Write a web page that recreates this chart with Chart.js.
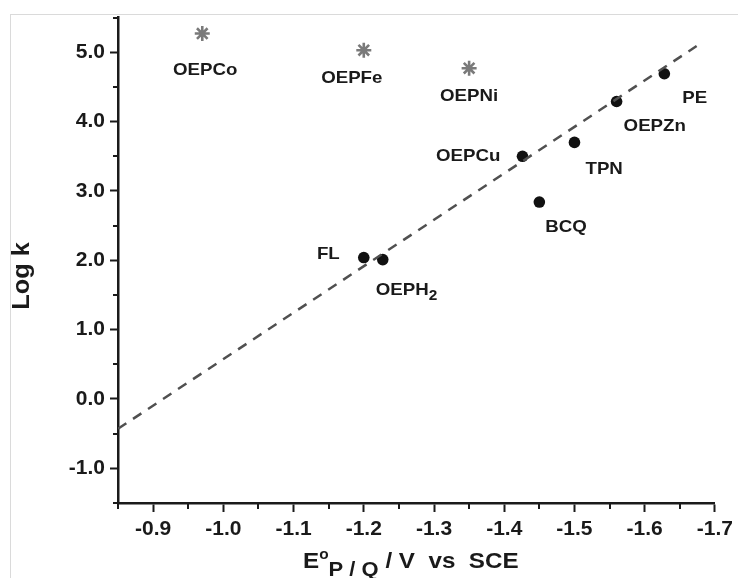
<!DOCTYPE html>
<html>
<head>
<meta charset="utf-8">
<script src="https://cdn.jsdelivr.net/npm/chart.js@4.4.0/dist/chart.umd.min.js"></script>
<style>
  html, body { margin: 0; padding: 0; background: #fff; }
  #wrap { width: 738px; height: 578px; position: relative; }
</style>
</head>
<body>
<div id="wrap"><canvas id="chart" width="738" height="578"></canvas></div>
<script>
// values
const fitNames = ["FL", "OEPH₂", "OEPCu", "BCQ", "TPN", "OEPZn", "PE"];
const fitE = [-1.20, -1.227, -1.426, -1.45, -1.50, -1.56, -1.628];
const fitLogK = [2.04, 2.01, 3.50, 2.84, 3.70, 4.29, 4.69];

const metalNames = ["OEPCo", "OEPFe", "OEPNi"];
const metalE = [-0.97, -1.20, -1.35];
const metalLogK = [5.27, 5.03, 4.77];

// dashed correlation line, end points
const lineE = [-0.85, -1.674];
const lineLogK = [-0.43, 5.09];

const xTicks = [-0.9, -1.0, -1.1, -1.2, -1.3, -1.4, -1.5, -1.6, -1.7];
const xMinor = [-0.85, -0.95, -1.05, -1.15, -1.25, -1.35, -1.45, -1.55, -1.65];
const yTicks = [-1.0, 0.0, 1.0, 2.0, 3.0, 4.0, 5.0];
const yMinor = [-1.5, -0.5, 0.5, 1.5, 2.5, 3.5, 4.5, 5.5];

const FONT = "'Liberation Sans', Arial, sans-serif";
const INK = "#1a1a1a";
const SX = 1.1; // the source text is a little wide

// where each label sits relative to its point: dx, dy, align
const labelPlace = {
  "OEPCo": [3, 37, "center"],
  "OEPFe": [-12, 28, "center"],
  "OEPNi": [0, 28, "center"],
  "FL": [-24, -3, "right"],
  "OEPH₂": [-7, 31, "left"],
  "OEPCu": [-22, 0, "right"],
  "BCQ": [6, 25, "left"],
  "TPN": [11, 27, "left"],
  "OEPZn": [7, 25, "left"],
  "PE": [18, 25, "left"]
};

function wideText(ctx, text, x, y) {
  ctx.save();
  ctx.translate(x, y);
  ctx.scale(SX, 1);
  ctx.fillText(text, 0, 0);
  ctx.restore();
  return ctx.measureText(text).width * SX;
}

const subDigits = "₀₁₂₃₄₅₆₇₈₉";

const decorPlugin = {
  id: "decor",
  beforeDraw(chart) {
    const ctx = chart.ctx;
    ctx.save();
    ctx.fillStyle = "#fff";
    ctx.fillRect(0, 0, chart.width, chart.height);
    ctx.strokeStyle = "#dadada";
    ctx.lineWidth = 1;
    ctx.beginPath();
    ctx.moveTo(10, 14.5); ctx.lineTo(chart.width, 14.5);
    ctx.moveTo(10.5, 14); ctx.lineTo(10.5, chart.height);
    ctx.stroke();
    ctx.restore();
  },
  afterDraw(chart) {
    const ctx = chart.ctx;
    const xs = chart.scales.x, ys = chart.scales.y;
    const area = chart.chartArea;
    ctx.save();

    // minor ticks
    ctx.strokeStyle = INK;
    ctx.lineWidth = 2;
    ctx.beginPath();
    xMinor.forEach(v => {
      const px = Math.round(xs.getPixelForValue(v));
      ctx.moveTo(px, area.bottom); ctx.lineTo(px, area.bottom + 6);
    });
    yMinor.forEach(v => {
      const py = Math.round(ys.getPixelForValue(v));
      ctx.moveTo(area.left, py); ctx.lineTo(area.left - 5, py);
    });
    ctx.stroke();

    // point labels
    ctx.fillStyle = INK;
    ctx.textBaseline = "middle";
    chart.data.datasets.forEach((ds, di) => {
      if (!ds.names) return;
      const meta = chart.getDatasetMeta(di);
      ds.names.forEach((name, i) => {
        const el = meta.data[i];
        const [dx, dy, align] = labelPlace[name] || [0, 25, "center"];
        let main = name, sub = "";
        const m = name.match(/^(.*?)([₀-₉]+)$/);
        if (m) {
          main = m[1];
          sub = [...m[2]].map(c => subDigits.indexOf(c)).join("");
        }
        ctx.font = "bold 17px " + FONT;
        let w = ctx.measureText(main).width * SX;
        ctx.font = "bold 14px " + FONT;
        const ws = sub ? ctx.measureText(sub).width * SX : 0;
        const total = w + ws;
        const x = el.x + dx, y = el.y + dy;
        let left = align === "center" ? x - total / 2 : align === "right" ? x - total : x;
        ctx.font = "bold 17px " + FONT;
        wideText(ctx, main, left, y);
        if (sub) {
          ctx.font = "bold 14px " + FONT;
          wideText(ctx, sub, left + w, y + 6);
        }
      });
    });

    // x title: E°(P / Q) / V vs SCE
    ctx.textBaseline = "alphabetic";
    let tx = 303;
    ctx.font = "bold 22px " + FONT;
    tx += wideText(ctx, "E", tx, 568);
    ctx.font = "bold 14px " + FONT;
    tx += wideText(ctx, "o", tx, 559);
    ctx.font = "bold 20px " + FONT;
    tx += wideText(ctx, "P / Q", tx, 576);
    ctx.font = "bold 22px " + FONT;
    wideText(ctx, " / V  vs  SCE", tx, 568);

    // y title
    ctx.font = "bold 23px " + FONT;
    const yt = "Log k";
    const wy = ctx.measureText(yt).width * SX;
    ctx.translate(29, 276);
    ctx.rotate(-Math.PI / 2);
    wideText(ctx, yt, -wy / 2, 0);

    ctx.restore();
  }
};

const tickFont = { family: FONT, size: 21, weight: "bold" };

new Chart(document.getElementById("chart").getContext("2d"), {
  type: "scatter",
  data: {
    datasets: [
      {
        label: "fit",
        type: "line",
        data: lineE.map((x, i) => ({ x: x, y: lineLogK[i] })),
        borderColor: "#505050",
        borderWidth: 2.5,
        borderDash: [10, 8],
        pointRadius: 0,
        fill: false
      },
      {
        label: "metal complexes",
        names: metalNames,
        data: metalE.map((x, i) => ({ x: x, y: metalLogK[i] })),
        pointStyle: "star",
        pointRadius: 7.5,
        borderColor: "#7a7a7a",
        backgroundColor: "#7a7a7a",
        pointBorderWidth: 2.6
      },
      {
        label: "compounds",
        names: fitNames,
        data: fitE.map((x, i) => ({ x: x, y: fitLogK[i] })),
        pointStyle: "circle",
        pointRadius: 5.8,
        borderColor: "#111",
        backgroundColor: "#111",
        pointBorderWidth: 0
      }
    ]
  },
  options: {
    responsive: false,
    animation: false,
    layout: { padding: { top: 14, right: 20, left: 0, bottom: 0 } },
    plugins: {
      legend: { display: false },
      tooltip: { enabled: false }
    },
    scales: {
      x: {
        type: "linear",
        reverse: true,
        min: -1.7,
        max: -0.85,
        afterBuildTicks: s => { s.ticks = xTicks.map(v => ({ value: v })); },
        afterFit: s => { s.height = 75; },
        ticks: {
          callback: v => Number(v).toFixed(1),
          font: tickFont,
          color: INK,
          padding: 5,
          maxRotation: 0,
          autoSkip: false
        },
        grid: { drawOnChartArea: false, tickLength: 9, tickWidth: 2, tickColor: INK },
        border: { color: INK, width: 2.5 }
      },
      y: {
        type: "linear",
        min: -1.5,
        max: 5.5,
        afterBuildTicks: s => { s.ticks = yTicks.map(v => ({ value: v })); },
        afterFit: s => { s.width = 118; },
        ticks: {
          callback: v => Number(v).toFixed(1),
          font: tickFont,
          color: INK,
          padding: 5,
          autoSkip: false
        },
        grid: { drawOnChartArea: false, tickLength: 8, tickWidth: 2, tickColor: INK },
        border: { color: INK, width: 2.5 }
      }
    }
  },
  plugins: [decorPlugin]
});
</script>
</body>
</html>
